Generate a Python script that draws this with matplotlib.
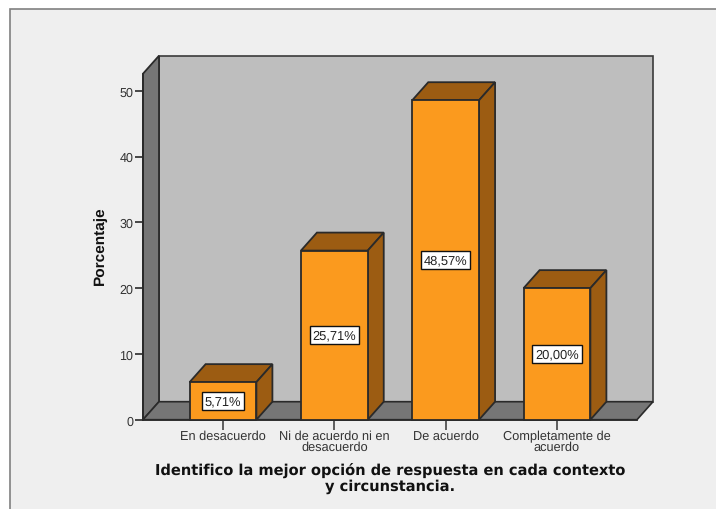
import matplotlib
matplotlib.use('Agg')
import matplotlib.pyplot as plt
from matplotlib.patches import Polygon, Rectangle

categorias = ['En desacuerdo', 'Ni de acuerdo ni en\ndesacuerdo', 'De acuerdo', 'Completamente de\nacuerdo']
porcentajes = [5.71, 25.71, 48.57, 20.00]
etiquetas = ['5,71%', '25,71%', '48,57%', '20,00%']
ticks_y = [0, 10, 20, 30, 40, 50]

W, H = 716, 510
plt.rcParams['font.family'] = ['Liberation Sans', 'DejaVu Sans']
plt.rcParams['text.hinting'] = 'no_hinting'

fig = plt.figure(figsize=(W / 100, H / 100), dpi=100, facecolor='white')
# panel gris con borde arriba e izquierda, se sale de la figura por los otros lados
fig.add_artist(Rectangle((9.5 / W, -0.1), 1.1, 1.1 - 9.5 / H, transform=fig.transFigure,
                         fc='#efefef', ec='#808080', lw=1.2, zorder=-1))

# ejes = plano frontal del grafico en pixeles
ax = fig.add_axes([143 / W, (H - 420.7) / H, (637 - 143) / W, (420 - 74) / H])
ax.patch.set_visible(False)
x0, x1 = -0.7186, 3.7186
y0, y1 = 0, 52.6
ax.set_xlim(x0, x1)
ax.set_ylim(y0, y1)
dx = 16 / 111.33
dy = 18 / 6.58
borde = '#2a2a2a'

# paredes
ax.add_patch(Polygon([(x0 + dx, dy), (x1 + dx, dy), (x1 + dx, y1 + dy), (x0 + dx, y1 + dy)],
                     fc='#bebebe', ec='#3a3a3a', lw=1.2, clip_on=False, zorder=1))
ax.add_patch(Polygon([(x0, y0), (x0 + dx, dy), (x0 + dx, y1 + dy), (x0, y1)],
                     fc='#767676', ec=borde, lw=1.3, clip_on=False, zorder=1.1))
ax.add_patch(Polygon([(x0, y0), (x1, y0), (x1 + dx, dy), (x0 + dx, dy)],
                     fc='#767676', ec=borde, lw=1.2, clip_on=False, zorder=1.1))

# barras
ancho = 0.6
for i, v in enumerate(porcentajes):
    a, b = i - ancho / 2, i + ancho / 2
    ax.bar(i, v, ancho, color='#fb9a1e', edgecolor=borde, linewidth=1.3, zorder=3, clip_on=False)
    ax.add_patch(Polygon([(a, v), (b, v), (b + dx, v + dy), (a + dx, v + dy)],
                         fc='#9c5c12', ec=borde, lw=1.3, clip_on=False, zorder=2.9))
    ax.add_patch(Polygon([(b, 0), (b + dx, dy), (b + dx, v + dy), (b, v)],
                         fc='#9c5c12', ec=borde, lw=1.3, clip_on=False, zorder=2.9))
    ax.text(i, v / 2, etiquetas[i], ha='center', va='center', fontsize=9.3, color='#222222', zorder=5,
            bbox=dict(boxstyle='square,pad=0.22', fc='white', ec='#111111', lw=1))

for s in ['top', 'right']:
    ax.spines[s].set_visible(False)
for s in ['left', 'bottom']:
    ax.spines[s].set_color(borde)
    ax.spines[s].set_linewidth(1.3)
    ax.spines[s].set_zorder(2.5)

ax.set_yticks(ticks_y)
ax.set_xticks(range(len(categorias)))
ax.set_xticklabels(categorias, fontsize=9.2, color='#333333', linespacing=0.86)
ax.tick_params(axis='y', labelsize=9, labelcolor='#333333', length=6, width=1.2, color=borde, pad=1)
ax.tick_params(axis='x', length=7, width=1.2, color='#444444', pad=0)

ax.set_ylabel('Porcentaje', fontsize=11.1, fontweight='bold', color='#111111', va='center')
ax.yaxis.set_label_coords((100 - 143) / 494, (420 - 245) / 346)
fig.text(390 / W, (H - 478.5) / H,
         'Identifico la mejor opción de respuesta en cada contexto\ny circunstancia.',
         ha='center', va='center', fontsize=10.5, fontweight='bold', color='#111111',
         linespacing=1.16, family=['DejaVu Sans'])

fig.savefig('out.png', dpi=100)
